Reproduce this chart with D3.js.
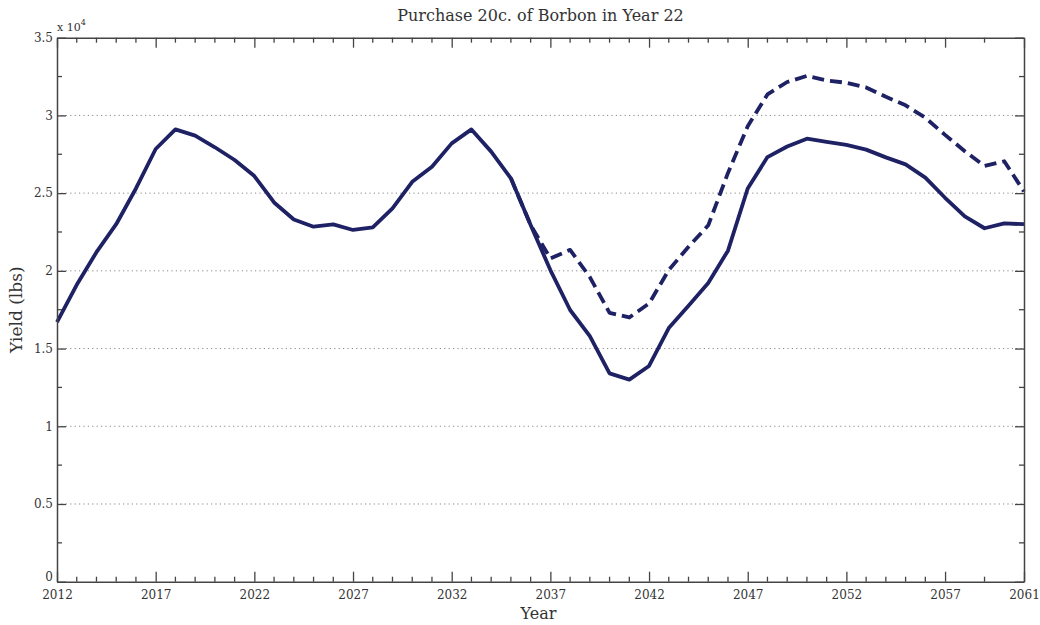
<!DOCTYPE html>
<html>
<head>
<meta charset="utf-8">
<script src="https://cdn.jsdelivr.net/npm/d3@7/dist/d3.min.js"></script>
<style>
  html, body { margin: 0; padding: 0; background: #fff; }
  svg { display: block; }
  text { font-family: "DejaVu Serif", "Liberation Serif", serif; fill: #333; }
</style>
</head>
<body>
<svg id="chart" width="1040" height="625"></svg>
<script>
// ---- data ----
const titleText = "Purchase 20c. of Borbon in Year 22";
const xLabel = "Year";
const yLabel = "Yield (lbs)";
const years = d3.range(2012, 2062);
const baseYield = [
  16700, 19100, 21200, 23000, 25300, 27840, 29100, 28700, 27950, 27130,
  26100, 24400, 23300, 22840, 22990, 22630, 22800, 24020, 25730, 26700,
  28200, 29100, 27670, 25950, 22950, 20050, 17480, 15800, 13400, 13000,
  13880, 16320, 17750, 19220, 21300, 25300, 27320, 28000, 28500, 28300,
  28100, 27800, 27300, 26850, 26000, 24700, 23500, 22740, 23050, 23000
];
const purchaseYears = d3.range(2035, 2062);
const purchaseYield = [
  25950, 22950, 20800, 21350, 19600, 17300, 17000, 17900, 20050, 21550,
  22930, 26300, 29300, 31350, 32150, 32540, 32250, 32100, 31800, 31200,
  30650, 29850, 28750, 27700, 26750, 27050, 25100
];
const yTicks = [0, 5000, 10000, 15000, 20000, 25000, 30000, 35000];
const yTickLabels = ["0", "0.5", "1", "1.5", "2", "2.5", "3", "3.5"];
const yMinorTicks = d3.range(2500, 35000, 5000);
const xMajorTicks = [2012, 2017, 2022, 2027, 2032, 2037, 2042, 2047, 2052, 2057, 2061];
const xMinorTicks = d3.range(2013, 2058).filter(y => (y - 2012) % 5 !== 0).concat([2059]);

// ---- layout ----
const svg = d3.select("#chart");
const m = { left: 57, right: 1024, top: 37.7, bottom: 581.7 };
const x = d3.scaleLinear().domain([2012, 2061]).range([m.left, m.right]);
const y = d3.scaleLinear().domain([0, 35000]).range([m.bottom, m.top]);
const lineColor = "#1e2163";
const axisColor = "#444";

// grid lines
svg.append("g").selectAll("line")
  .data(yTicks.filter(v => v > 0 && v < 35000))
  .join("line")
  .attr("x1", m.left).attr("x2", m.right)
  .attr("y1", d => y(d)).attr("y2", d => y(d))
  .attr("stroke", "#888").attr("stroke-width", 1)
  .attr("stroke-dasharray", "1.2,3.2");

// lines
const line = d3.line().x(d => x(d[0])).y(d => y(d[1]));
svg.append("path")
  .datum(purchaseYears.map((yr, i) => [yr, purchaseYield[i]]))
  .attr("d", line)
  .attr("fill", "none").attr("stroke", lineColor)
  .attr("stroke-width", 3.8).attr("stroke-dasharray", "12,6")
  .attr("stroke-linejoin", "round");
svg.append("path")
  .datum(years.map((yr, i) => [yr, baseYield[i]]))
  .attr("d", line)
  .attr("fill", "none").attr("stroke", lineColor)
  .attr("stroke-width", 3.8).attr("stroke-linejoin", "round");

// axes frame with inward ticks
const fmt = d => {
  const i = yTicks.indexOf(d);
  return i >= 0 ? yTickLabels[i] : "";
};
function styleAxis(g) {
  g.select(".domain").attr("stroke", axisColor).attr("stroke-width", 1.5);
  g.selectAll(".tick line").attr("stroke", axisColor).attr("stroke-width", 1.3);
  g.selectAll(".tick text").attr("fill", "#333").style("font-family", "DejaVu Serif, serif");
}
// bottom
const gb = svg.append("g").attr("transform", `translate(0,${m.bottom})`)
  .call(d3.axisBottom(x).tickValues(xMajorTicks).tickFormat(d3.format("d"))
    .tickSizeInner(-10).tickSizeOuter(0).tickPadding(10));
styleAxis(gb);
gb.selectAll(".tick text").attr("font-size", 12).attr("dy", "0.6em");
gb.append("g").selectAll("line").data(xMinorTicks).join("line")
  .attr("x1", d => x(d)).attr("x2", d => x(d)).attr("y1", 0).attr("y2", -5)
  .attr("stroke", axisColor).attr("stroke-width", 1.3);
// top
const gt = svg.append("g").attr("transform", `translate(0,${m.top})`)
  .call(d3.axisTop(x).tickValues(xMajorTicks).tickFormat("")
    .tickSizeInner(-10).tickSizeOuter(0));
styleAxis(gt);
gt.append("g").selectAll("line").data(xMinorTicks).join("line")
  .attr("x1", d => x(d)).attr("x2", d => x(d)).attr("y1", 0).attr("y2", 5)
  .attr("stroke", axisColor).attr("stroke-width", 1.3);
// left
const gl = svg.append("g").attr("transform", `translate(${m.left},0)`)
  .call(d3.axisLeft(y).tickValues(yTicks).tickFormat(fmt)
    .tickSizeInner(-9).tickSizeOuter(0).tickPadding(5));
styleAxis(gl);
gl.selectAll(".tick text").attr("font-size", 12).attr("x", -4)
  .attr("dy", d => d === 0 ? "-0.1em" : "0.32em");
gl.append("g").selectAll("line").data(yMinorTicks).join("line")
  .attr("x1", 0).attr("x2", 5).attr("y1", d => y(d)).attr("y2", d => y(d))
  .attr("stroke", axisColor).attr("stroke-width", 1.3);
// right
const gr = svg.append("g").attr("transform", `translate(${m.right},0)`)
  .call(d3.axisRight(y).tickValues(yTicks).tickFormat("")
    .tickSizeInner(-9).tickSizeOuter(0));
styleAxis(gr);
gr.append("g").selectAll("line").data(yMinorTicks).join("line")
  .attr("x1", 0).attr("x2", -5).attr("y1", d => y(d)).attr("y2", d => y(d))
  .attr("stroke", axisColor).attr("stroke-width", 1.3);

// exponent label
const ex = svg.append("text").attr("x", m.left).attr("y", 31).attr("font-size", 11);
ex.append("tspan").text("x 10");
ex.append("tspan").text("4").attr("font-size", 8).attr("dy", -6);

// title
svg.append("text").attr("x", (m.left + m.right) / 2).attr("y", 21)
  .attr("text-anchor", "middle").attr("font-size", 16).text(titleText);
// x label
svg.append("text").attr("x", (m.left + m.right) / 2 - 2).attr("y", 619)
  .attr("text-anchor", "middle").attr("font-size", 16).text(xLabel);
// y label
svg.append("text").attr("transform", `translate(22,${(m.top + m.bottom) / 2}) rotate(-90)`)
  .attr("text-anchor", "middle").attr("font-size", 17).text(yLabel);
</script>
</body>
</html>
